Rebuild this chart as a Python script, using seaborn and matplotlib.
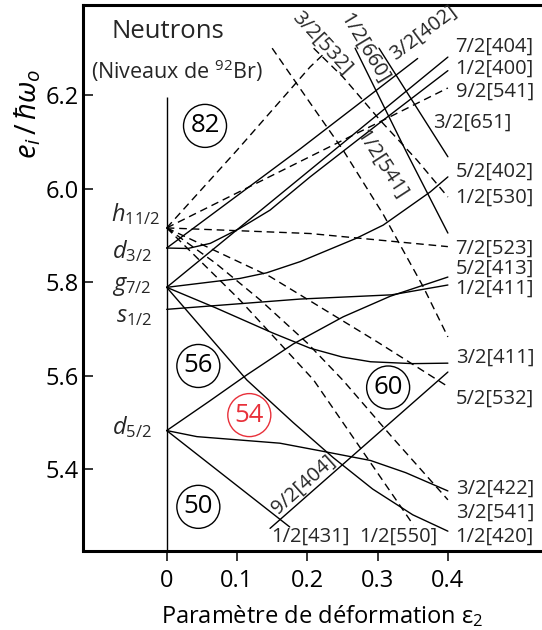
import numpy as np
import pandas as pd
import seaborn as sns
import matplotlib.pyplot as plt
from matplotlib.patches import Ellipse

# spherical neutron levels at eps2 = 0 (in units of hbar*omega_0)
E_D52 = 5.483
E_S12 = 5.742
E_G72 = 5.789
E_D32 = 5.873
E_H112 = 5.916

# Nilsson orbitals: (eps2, e)
# solid lines
n413 = ([0, 0.06, 0.114, 0.18, 0.251, 0.318, 0.40], [E_D52, 5.545, 5.602, 5.668, 5.726, 5.770, 5.811])
n422 = ([0, 0.043, 0.161, 0.228, 0.29, 0.34, 0.40], [E_D52, 5.470, 5.456, 5.437, 5.419, 5.393, 5.354])
n431 = ([0, 0.175], [E_D52, 5.277])
n404_9 = ([0.147, 0.40], [5.274, 5.608])
n411_1 = ([0, 0.19, 0.32, 0.40], [E_S12, 5.764, 5.773, 5.794])
n411_3 = ([0, 0.07, 0.15, 0.204, 0.25, 0.29, 0.35, 0.40], [E_G72, 5.745, 5.692, 5.659, 5.640, 5.630, 5.626, 5.627])
n420 = ([0, 0.114, 0.18, 0.237, 0.293, 0.35, 0.40], [E_G72, 5.591, 5.500, 5.425, 5.358, 5.303, 5.268])
n402_5 = ([0, 0.104, 0.142, 0.19, 0.27, 0.308, 0.375, 0.40], [E_G72, 5.808, 5.820, 5.844, 5.894, 5.922, 5.993, 6.025])
n404_7 = ([0, 0.40], [E_G72, 6.281])
n400 = ([0, 0.03, 0.062, 0.104, 0.147, 0.204, 0.30, 0.40], [E_D32, 5.872, 5.883, 5.915, 5.954, 6.025, 6.137, 6.252])
n402_3 = ([0, 0.19, 0.357], [E_D32, 6.085, 6.278])
n660 = ([0.268, 0.342, 0.40], [6.30, 6.075, 5.905])
n651 = ([0.302, 0.40], [6.30, 6.068])
# dashed lines
n505 = ([0, 0.1, 0.204, 0.225], [E_H112, 6.082, 6.26, 6.29])
n514 = ([0, 0.40], [E_H112, 6.215])
n523 = ([0, 0.204, 0.40], [E_H112, 5.904, 5.876])
n532 = ([0, 0.147, 0.204, 0.30, 0.40], [E_H112, 5.812, 5.760, 5.672, 5.577])
n541_3 = ([0, 0.07, 0.133, 0.2, 0.251, 0.32, 0.40], [E_H112, 5.84, 5.762, 5.67, 5.590, 5.47, 5.335])
n550 = ([0, 0.104, 0.209, 0.28, 0.351], [E_H112, 5.762, 5.591, 5.436, 5.281])
n541_1 = ([0.15, 0.204, 0.251, 0.308, 0.365, 0.40], [6.30, 6.183, 6.082, 5.945, 5.790, 5.683])
n530 = ([0.209, 0.251, 0.303, 0.356, 0.40], [6.30, 6.238, 6.147, 6.061, 5.982])

solid = [n413, n422, n431, n404_9, n411_1, n411_3, n420, n402_5, n404_7, n400, n402_3, n660, n651]
dashed = [n505, n514, n523, n532, n541_3, n550, n541_1, n530]

rows = []
for kind, group in (('solid', solid), ('dashed', dashed)):
    for i, (xs, ys) in enumerate(group):
        for x, y in zip(xs, ys):
            rows.append({'level': f'{kind}{i}', 'kind': kind, 'eps': x, 'e': y})
df = pd.DataFrame(rows)

# labels at the right end of the levels
right_labels = ['7/2[404]', '1/2[400]', '9/2[541]', '5/2[402]', '1/2[530]', '7/2[523]',
                '5/2[413]', '1/2[411]', '3/2[411]', '5/2[532]', '3/2[422]', '3/2[541]', '1/2[420]']
right_label_e = [6.303, 6.256, 6.206, 6.035, 5.981, 5.871, 5.828, 5.785, 5.639, 5.550, 5.358, 5.308, 5.256]

sns.set_theme(style='white')
plt.rcParams['font.family'] = ['Open Sans', 'DejaVu Sans']
plt.rcParams['mathtext.fontset'] = 'custom'
plt.rcParams['mathtext.rm'] = 'Open Sans'
plt.rcParams['mathtext.it'] = 'Open Sans:italic'
plt.rcParams['mathtext.bf'] = 'Open Sans:bold'

fig = plt.figure(figsize=(5.42, 6.30), dpi=100)
ax = fig.add_axes([83 / 542, 79.5 / 630, 459 / 542, 545.5 / 630])

sns.lineplot(data=df, x='eps', y='e', units='level', style='kind',
             dashes={'solid': '', 'dashed': (5.5, 3.5)}, color='black', lw=1.0,
             estimator=None, sort=False, legend=False, ax=ax)
ax.vlines(0, 5.2, 6.196, color='black', lw=1.0)

ax.set_xlim(-0.1191, 0.5339)
ax.set_ylim(5.2267, 6.3923)

for txt, y in zip(right_labels, right_label_e):
    ax.text(0.411, y, txt, ha='left', va='center', fontsize=14.5)
ax.text(0.379, 6.140, '3/2[651]', ha='left', va='center', fontsize=14.5)
ax.text(0.204, 5.256, '1/2[431]', ha='center', va='center', fontsize=14.5)
ax.text(0.329, 5.256, '1/2[550]', ha='center', va='center', fontsize=14.5)

# rotated labels along the lines
for txt, x, y, rot in [('3/2[532]', 0.220, 6.311, -47), ('1/2[660]', 0.281, 6.300, -59),
                       ('3/2[402]', 0.365, 6.332, 37), ('1/2[541]', 0.306, 6.052, -57),
                       ('9/2[404]', 0.194, 5.367, 42)]:
    ax.text(x, y, txt, ha='center', va='center', rotation=rot, rotation_mode='anchor', fontsize=14.5)

# spherical orbitals
for txt, x, y in [(r'$h_{11/2}$', -0.0095, 5.946), (r'$d_{3/2}$', -0.021, 5.867),
                  (r'$g_{7/2}$', -0.021, 5.792), (r'$s_{1/2}$', -0.020, 5.728),
                  (r'$d_{5/2}$', -0.021, 5.491)]:
    ax.text(x, y, txt, ha='right', va='center', fontsize=17)

# shell gaps
for txt, x, y, col in [('82', 0.0545, 6.134, 'black'), ('56', 0.045, 5.621, 'black'),
                       ('54', 0.1175, 5.516, '#e8303a'), ('60', 0.315, 5.575, 'black'),
                       ('50', 0.045, 5.320, 'black')]:
    ax.add_patch(Ellipse((x, y), 0.0612, 0.0919, fill=False, ec=col, lw=1.0))
    ax.text(x, y, txt, ha='center', va='center', fontsize=18.5, color=col)

ax.text(0.002, 6.335, 'Neutrons', ha='center', va='center', fontsize=18.5)
ax.text(0.015, 6.252, r'(Niveaux de $^{92}$Br)', ha='center', va='center', fontsize=15.5)

ax.set_xticks([0, 0.1, 0.2, 0.3, 0.4])
ax.set_xticklabels(['0', '0.1', '0.2', '0.3', '0.4'])
ax.set_yticks([5.4, 5.6, 5.8, 6.0, 6.2])
ax.set_yticklabels(['5.4', '5.6', '5.8', '6.0', '6.2'])
ax.tick_params(axis='x', direction='out', length=7, width=1.1, labelsize=17, pad=6,
               bottom=True, colors='black')
ax.tick_params(axis='y', direction='in', length=7, width=1.1, labelsize=17, pad=3,
               left=True, colors='black')

for s in ['left', 'top', 'bottom']:
    ax.spines[s].set_linewidth(2.2)
    ax.spines[s].set_color('black')
ax.spines['right'].set_visible(False)

ax.set_xlabel('Paramètre de déformation ε$_2$', fontsize=17, va='center', color='black')
ax.xaxis.set_label_coords(0.521, -0.12)
ax.set_ylabel(r'$e_i\,/\,\hbar\omega_o$', fontsize=21, va='center', color='black')
ax.yaxis.set_label_coords(-0.120, 0.80)

fig.savefig('out.png', dpi=100)
